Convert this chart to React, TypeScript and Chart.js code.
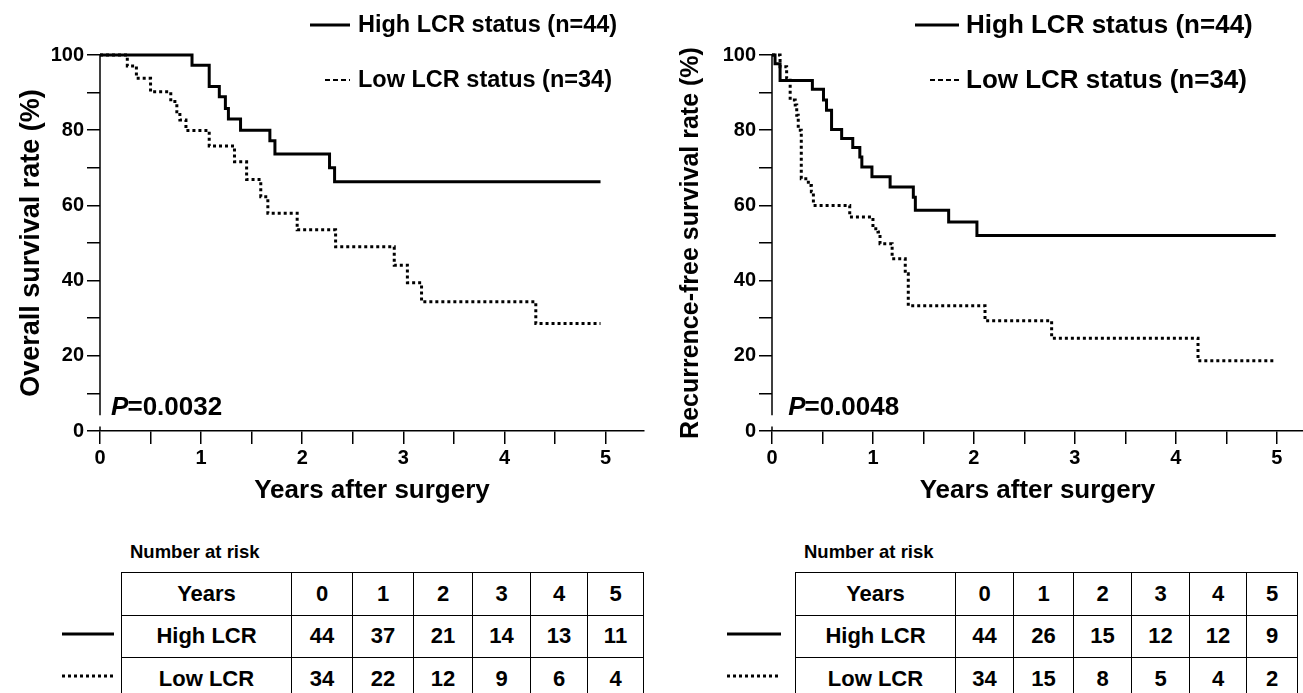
import React, { useEffect, useRef } from "react";
import { Chart, registerables } from "chart.js";
Chart.register(...registerables);

const FONT = '"Liberation Sans", Arial, Helvetica, sans-serif';
Chart.defaults.font.family = FONT;

// ---- Overall survival (left panel) ----
const osHighYears = [0, 0.91, 1.08, 1.18, 1.24, 1.27, 1.39, 1.68, 1.73, 2.27, 2.32, 4.95];
const osHighRate = [100, 97.3, 91.6, 88.9, 85.8, 83.0, 80.0, 77.2, 73.7, 70.0, 66.3, 66.3];
const osLowYears = [0, 0.27, 0.36, 0.5, 0.7, 0.76, 0.79, 0.85, 1.08, 1.33, 1.45, 1.59, 1.66, 1.95, 2.33, 2.91, 3.04, 3.18, 4.31, 4.95];
const osLowRate = [100, 97.1, 93.8, 90.2, 87.6, 84.9, 82.7, 79.9, 75.8, 71.6, 66.9, 62.3, 57.9, 53.5, 49.0, 44.1, 39.4, 34.4, 28.6, 28.6];

// ---- Recurrence-free survival (right panel) ----
const rfsHighYears = [0, 0.03, 0.08, 0.4, 0.51, 0.54, 0.59, 0.69, 0.8, 0.87, 0.89, 0.99, 1.17, 1.4, 1.42, 1.75, 2.03, 4.99];
const rfsHighRate = [100, 97.7, 93.2, 90.9, 88.0, 85.3, 80.2, 77.8, 75.4, 72.9, 70.2, 67.6, 64.9, 62.2, 58.7, 55.6, 52.0, 52.0];
const rfsLowYears = [0, 0.08, 0.145, 0.18, 0.23, 0.245, 0.26, 0.29, 0.36, 0.39, 0.41, 0.77, 1.0, 1.05, 1.07, 1.19, 1.32, 1.35, 2.11, 2.77, 4.22, 4.99];
const rfsLowRate = [100, 96.9, 93.8, 88.0, 86.7, 84.0, 80.0, 67.1, 65.3, 63.6, 60.0, 56.9, 53.8, 52.9, 49.8, 45.8, 41.8, 33.3, 29.3, 24.7, 18.7, 18.7];

// ---- Texts ----
const legendLabels = ["High LCR status (n=44)", "Low LCR status (n=34)"];
const groupLabels = ["High LCR", "Low LCR"];
const riskYears = ["0", "1", "2", "3", "4", "5"];
const osRiskHigh = [44, 37, 21, 14, 13, 11];
const osRiskLow = [34, 22, 12, 9, 6, 4];
const rfsRiskHigh = [44, 26, 15, 12, 12, 9];
const rfsRiskLow = [34, 15, 8, 5, 4, 2];
const osPValue = "0.0032";
const rfsPValue = "0.0048";

const toPoints = (xs: number[], ys: number[]) => xs.map((x, i) => ({ x, y: ys[i] }));

const overlayPlugin = {
  id: "kmOverlay",
  afterDraw(chart: any, _args: any, opts: any) {
    const ctx = chart.ctx;
    const xs = chart.scales.x;
    const ys = chart.scales.y;
    ctx.save();
    // y axis line (with small break near 0)
    const ax = xs.getPixelForValue(0);
    ctx.strokeStyle = "#000";
    ctx.lineWidth = 1.5;
    ctx.beginPath();
    ctx.moveTo(ax, ys.getPixelForValue(100));
    ctx.lineTo(ax, ys.getPixelForValue(4.2));
    ctx.moveTo(ax, ys.getPixelForValue(1.2));
    ctx.lineTo(ax, ys.getPixelForValue(0));
    ctx.stroke();
    // P value
    ctx.fillStyle = "#000";
    ctx.textBaseline = "middle";
    ctx.textAlign = "left";
    const px = xs.getPixelForValue(opts.pX);
    const py = ys.getPixelForValue(opts.pY);
    ctx.font = `italic bold 26px ${FONT}`;
    ctx.fillText("P", px, py);
    const w = ctx.measureText("P").width;
    ctx.font = `bold 26px ${FONT}`;
    ctx.fillText("=" + opts.pValue, px + w - 1, py);
    // legend
    const L = opts.legend;
    ctx.font = `bold ${L.size}px ${FONT}`;
    ctx.lineWidth = 3;
    ctx.beginPath();
    ctx.setLineDash([]);
    ctx.moveTo(L.solidFrom, L.row1);
    ctx.lineTo(L.lineTo, L.row1);
    ctx.stroke();
    ctx.lineWidth = 2;
    ctx.setLineDash([5, 3]);
    ctx.beginPath();
    ctx.moveTo(L.dashFrom, L.row2);
    ctx.lineTo(L.lineTo, L.row2);
    ctx.stroke();
    ctx.setLineDash([]);
    ctx.fillText(legendLabels[0], L.textX, L.row1 + 1);
    ctx.fillText(legendLabels[1], L.textX, L.row2 + 1);
    ctx.restore();
  },
};

type KMProps = {
  width: number;
  height: number;
  left: number;
  xMax: number;
  padRight: number;
  yTitle: string;
  yTitleSize: number;
  yTitlePad: number;
  high: { x: number; y: number }[];
  low: { x: number; y: number }[];
  pValue: string;
  pX: number;
  legend: any;
};

function KMChart(p: KMProps) {
  const ref = useRef<HTMLCanvasElement>(null);
  useEffect(() => {
    const tickFont = { size: 20, weight: "bold" as const, family: FONT };
    const chart = new Chart(ref.current as HTMLCanvasElement, {
      type: "line",
      data: {
        datasets: [
          {
            data: p.high,
            borderColor: "#000",
            borderWidth: 3,
            stepped: true,
            pointRadius: 0,
            fill: false,
            clip: false as any,
            borderCapStyle: "butt",
            borderJoinStyle: "miter",
          },
          {
            data: p.low,
            borderColor: "#000",
            borderWidth: 3,
            borderDash: [3, 3],
            stepped: true,
            pointRadius: 0,
            fill: false,
            clip: false as any,
            borderCapStyle: "butt",
            borderJoinStyle: "miter",
          },
        ],
      },
      options: {
        animation: false,
        responsive: false,
        maintainAspectRatio: false,
        layout: { padding: { top: 55, right: p.padRight, left: 0, bottom: 0 } },
        plugins: {
          legend: { display: false },
          tooltip: { enabled: false },
          kmOverlay: { pValue: p.pValue, pX: p.pX, pY: 6.1, legend: p.legend },
        } as any,
        scales: {
          x: {
            type: "linear",
            min: 0,
            max: p.xMax,
            afterFit: (s: any) => {
              s.height = p.height - 431;
            },
            grid: { drawOnChartArea: false, drawTicks: true, tickLength: 13, color: "#000", lineWidth: 1.5 },
            border: { display: true, color: "#000", width: 1.5 },
            ticks: {
              stepSize: 0.5,
              includeBounds: false,
              autoSkip: false,
              maxRotation: 0,
              color: "#000",
              font: tickFont,
              padding: 2,
              callback: (v: any) => (Math.abs(v - Math.round(v)) < 1e-6 ? String(Math.round(v)) : ""),
            },
            title: {
              display: true,
              text: "Years after surgery",
              color: "#000",
              font: { size: 26, weight: "bold", family: FONT },
              padding: { top: 0, bottom: 4 },
            },
          },
          y: {
            type: "linear",
            min: 0,
            max: 100,
            afterFit: (s: any) => {
              s.width = 100;
            },
            grid: { drawOnChartArea: false, drawTicks: true, tickLength: 13, color: "#000", lineWidth: 1.5 },
            border: { display: false },
            ticks: {
              stepSize: 10,
              autoSkip: false,
              color: "#000",
              font: tickFont,
              padding: 3,
              callback: (v: any) => (Math.round(v) % 20 === 0 ? String(Math.round(v)) : ""),
            },
            title: {
              display: true,
              text: p.yTitle,
              color: "#000",
              font: { size: p.yTitleSize, weight: "bold", family: FONT },
              padding: { top: p.yTitlePad, bottom: 0 },
            },
          },
        },
      },
      plugins: [overlayPlugin as any],
    });
    return () => chart.destroy();
  }, []);
  return (
    <canvas
      ref={ref}
      width={p.width}
      height={p.height}
      style={{ position: "absolute", left: p.left, top: 0, width: p.width, height: p.height, display: "block" }}
    />
  );
}

function LineSample({ left, top, width, dotted }: { left: number; top: number; width: number; dotted: boolean }) {
  return (
    <svg style={{ position: "absolute", left, top: top - 3, width, height: 6 }} width={width} height={6}>
      <line x1={0} y1={3} x2={width} y2={3} stroke="#000" strokeWidth={3} strokeDasharray={dotted ? "3 3" : undefined} />
    </svg>
  );
}

function RiskTable({
  left,
  top,
  colWidths,
  high,
  low,
  lineLeft,
  lineWidth,
}: {
  left: number;
  top: number;
  colWidths: number[];
  high: number[];
  low: number[];
  lineLeft: number;
  lineWidth: number;
}) {
  const rowH = 41.5;
  const cell: React.CSSProperties = {
    border: "1.5px solid #000",
    textAlign: "center",
    padding: 0,
    height: rowH,
    fontWeight: "bold",
    fontSize: 22,
    fontFamily: FONT,
  };
  const rows = [
    ["Years", ...riskYears],
    [groupLabels[0], ...high.map(String)],
    [groupLabels[1], ...low.map(String)],
  ];
  return (
    <>
      <div
        style={{
          position: "absolute",
          left: left + 9,
          top: top - 31,
          fontFamily: FONT,
          fontWeight: "bold",
          fontSize: 18.5,
          lineHeight: "22px",
        }}
      >
        Number at risk
      </div>
      <table
        style={{
          position: "absolute",
          left,
          top,
          borderCollapse: "collapse",
          tableLayout: "fixed",
          width: colWidths.reduce((a, b) => a + b, 0),
        }}
      >
        <colgroup>
          {colWidths.map((w, i) => (
            <col key={i} style={{ width: w }} />
          ))}
        </colgroup>
        <tbody>
          {rows.map((r, i) => (
            <tr key={i} style={{ height: rowH }}>
              {r.map((c, j) => (
                <td key={j} style={cell}>
                  {c}
                </td>
              ))}
            </tr>
          ))}
        </tbody>
      </table>
      <LineSample left={lineLeft} top={top + rowH * 1.5} width={lineWidth} dotted={false} />
      <LineSample left={lineLeft} top={top + rowH * 2.5} width={lineWidth} dotted={true} />
    </>
  );
}

export default function App() {
  return (
    <div style={{ position: "fixed", left: 0, top: 0, width: 1303, height: 693, background: "#fff", overflow: "hidden" }}>
      <KMChart
        width={650}
        height={510}
        left={0}
        xMax={5.38}
        padRight={6}
        yTitle="Overall survival rate (%)"
        yTitleSize={27}
        yTitlePad={15}
        high={toPoints(osHighYears, osHighRate)}
        low={toPoints(osLowYears, osLowRate)}
        pValue={osPValue}
        pX={0.11}
        legend={{ size: 23.5, solidFrom: 310, dashFrom: 325, lineTo: 350, textX: 358, row1: 25, row2: 80 }}
      />
      <KMChart
        width={631}
        height={510}
        left={672}
        xMax={5.26}
        padRight={0}
        yTitle="Recurrence-free survival rate (%)"
        yTitleSize={25}
        yTitlePad={4}
        high={toPoints(rfsHighYears, rfsHighRate)}
        low={toPoints(rfsLowYears, rfsLowRate)}
        pValue={rfsPValue}
        pX={0.16}
        legend={{ size: 26, solidFrom: 243, dashFrom: 258, lineTo: 287, textX: 294, row1: 25, row2: 80 }}
      />
      <RiskTable
        left={121}
        top={572}
        colWidths={[170, 61, 61, 59, 58, 57, 56]}
        high={osRiskHigh}
        low={osRiskLow}
        lineLeft={62}
        lineWidth={52}
      />
      <RiskTable
        left={795}
        top={572}
        colWidths={[160, 58, 60, 58, 58, 57, 51]}
        high={rfsRiskHigh}
        low={rfsRiskLow}
        lineLeft={727}
        lineWidth={54}
      />
    </div>
  );
}
